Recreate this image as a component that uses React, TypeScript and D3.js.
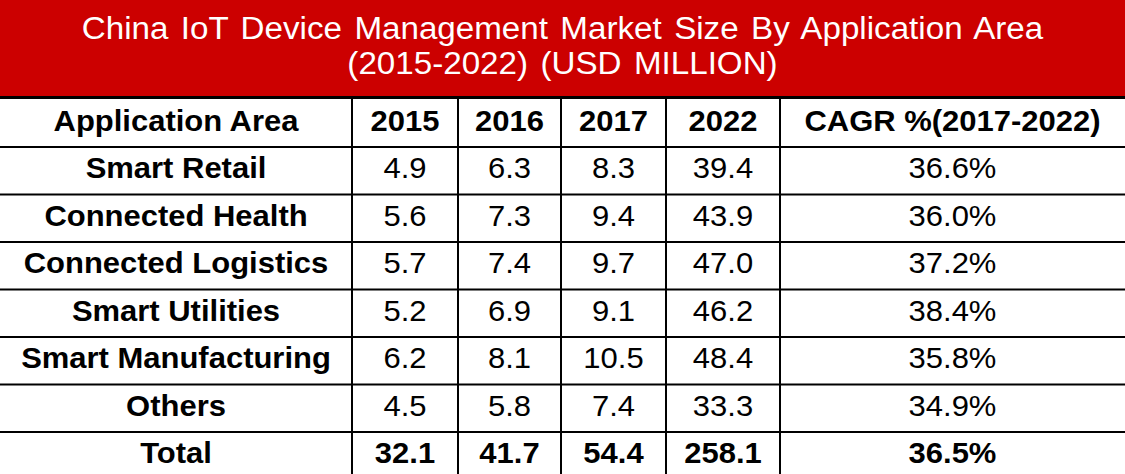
import React from "react";
import * as d3 from "d3";

const titleLines = [
  "China IoT Device Management Market Size By Application Area",
  "(2015-2022) (USD MILLION)",
];
const headers = ["Application Area", "2015", "2016", "2017", "2022", "CAGR %(2017-2022)"];
const areas = [
  "Smart Retail",
  "Connected Health",
  "Connected Logistics",
  "Smart Utilities",
  "Smart Manufacturing",
  "Others",
];
const v2015 = [4.9, 5.6, 5.7, 5.2, 6.2, 4.5];
const v2016 = [6.3, 7.3, 7.4, 6.9, 8.1, 5.8];
const v2017 = [8.3, 9.4, 9.7, 9.1, 10.5, 7.4];
const v2022 = [39.4, 43.9, 47.0, 46.2, 48.4, 33.3];
const cagr = [36.6, 36.0, 37.2, 38.4, 35.8, 34.9];
const totals = { label: "Total", v2015: 32.1, v2016: 41.7, v2017: 54.4, v2022: 258.1, cagr: 36.5 };

const W = 1125;
const H = 474;
const colEdges = [0, 352, 458, 561, 666, 780, 1125];
const FONT = "'Liberation Sans', Arial, Helvetica, sans-serif";

export default function App() {
  const rowKeys = ["__header", ...areas, totals.label];
  const y = d3.scaleBand<string>().domain(rowKeys).range([99.5, 479.5]).padding(0);
  const colCenter = (i: number) => (colEdges[i] + colEdges[i + 1]) / 2;

  const rows: { key: string; cells: string[]; bold: boolean }[] = [];
  rows.push({ key: "__header", cells: headers, bold: true });
  areas.forEach((a, i) => {
    rows.push({
      key: a,
      cells: [a, v2015[i].toFixed(1), v2016[i].toFixed(1), v2017[i].toFixed(1), v2022[i].toFixed(1), cagr[i].toFixed(1) + "%"],
      bold: false,
    });
  });
  rows.push({
    key: totals.label,
    cells: [totals.label, totals.v2015.toFixed(1), totals.v2016.toFixed(1), totals.v2017.toFixed(1), totals.v2022.toFixed(1), totals.cagr.toFixed(1) + "%"],
    bold: true,
  });

  const bw = y.bandwidth();
  return (
    <svg width={W} height={H} style={{ position: "absolute", left: 0, top: 0, background: "#fff" }} fontFamily={FONT}>
      <rect x={0} y={0} width={W} height={96} fill="#CC0000" />
      {titleLines.map((t, i) => (
        <text
          key={i}
          transform={`translate(${W / 2},${39 + i * 35}) scale(1.07,1)`}
          textAnchor="middle"
          fill="#fff"
          fontSize={31}
          wordSpacing={3}
        >
          {t}
        </text>
      ))}
      <rect x={0} y={96} width={W} height={3} fill="#000" />
      {rowKeys.slice(1).map((k) => (
        <rect key={"h" + k} x={0} y={(y(k) as number) - 1} width={W} height={2} fill="#000" />
      ))}
      {colEdges.slice(1, -1).map((x, i) => (
        <rect key={"v" + i} x={x - 1} y={98} width={2} height={H - 98} fill="#000" />
      ))}
      {rows.map((r) => {
        const cy = (y(r.key) as number) + bw / 2;
        return r.cells.map((c, ci) => (
          <text
            key={r.key + ci}
            transform={`translate(${colCenter(ci)},${cy + 7.5}) scale(1.05,1)`}
            textAnchor="middle"
            fontSize={29.5}
            fontWeight={r.bold || ci === 0 ? "bold" : "normal"}
            fill="#000"
          >
            {c}
          </text>
        ));
      })}
    </svg>
  );
}
